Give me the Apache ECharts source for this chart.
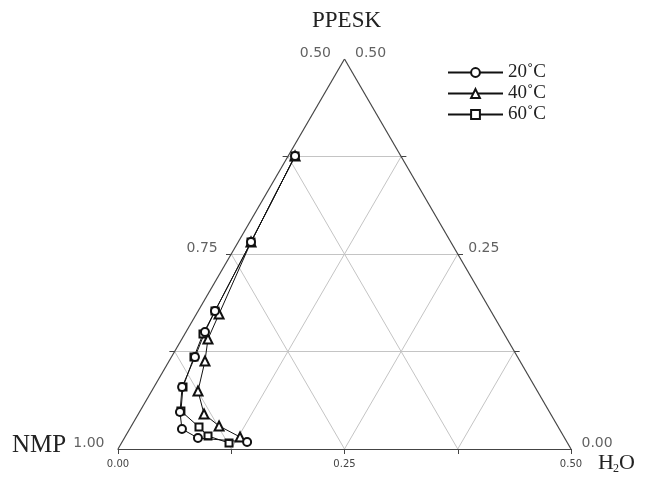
<!DOCTYPE html>
<html><head><meta charset="utf-8">
<script src="https://cdn.jsdelivr.net/npm/echarts@6/dist/echarts.min.js"></script>
<style>html,body{margin:0;padding:0;background:#fff}#c{width:650px;height:477px}</style>
</head><body><div id="c"></div>
<script>
// Ternary data: PPESK and H2O mass fractions (NMP = 1 - PPESK - H2O)
const seriesNames = ['20\u02DAC', '40\u02DAC', '60\u02DAC'];
const ppesk20 = [0.3756, 0.2654, 0.1769, 0.1500, 0.1179, 0.0795, 0.0474, 0.0256, 0.0141, 0.0090];
const h2o20   = [0.0076, 0.0141, 0.0186, 0.0210, 0.0260, 0.0310, 0.0447, 0.0578, 0.0812, 0.1380];
const ppesk40 = [0.3756, 0.2654, 0.1731, 0.1410, 0.1128, 0.0744, 0.0449, 0.0295, 0.0154];
const h2o40   = [0.0076, 0.0141, 0.0250, 0.0288, 0.0396, 0.0511, 0.0725, 0.0968, 0.1270];
const ppesk60 = [0.3756, 0.2654, 0.1769, 0.1474, 0.1179, 0.0795, 0.0487, 0.0282, 0.0167, 0.0077];
const h2o60   = [0.0076, 0.0141, 0.0186, 0.0201, 0.0249, 0.0320, 0.0451, 0.0753, 0.0910, 0.1187];

const axisMax = 0.5;                 // each component shown from 0 to 0.5
const gridSteps = [0.125, 0.25, 0.375];
const sideLabelP = [0, 0.25, 0.5];   // PPESK levels where side labels sit

// ternary (h2o, ppesk) -> cartesian (x, y) with y = ppesk
function toXY(h, p) { return [h + p / 2, p]; }
function seriesData(ps, hs) { return ps.map((p, i) => toXY(hs[i], p)); }

const edges = [
  [toXY(0, 0), toXY(axisMax, 0)],
  [toXY(0, 0), toXY(0, axisMax)],
  [toXY(axisMax, 0), toXY(0, axisMax)]
];
const gridLines = [];
gridSteps.forEach(s => {
  gridLines.push([toXY(0, s), toXY(axisMax - s, s)]);        // const PPESK
  gridLines.push([toXY(s, 0), toXY(s, axisMax - s)]);        // const H2O
  gridLines.push([toXY(s, 0), toXY(0, s)]);                  // const NMP
});
const tickLx = 0.0058;
const ticks = [];
gridSteps.forEach(p => {
  const l = toXY(0, p), r = toXY(axisMax - p, p);
  ticks.push([l, [l[0] - tickLx, l[1]]]);
  ticks.push([r, [r[0] + tickLx, r[1]]]);
});

const leftLabels = sideLabelP.map(p => { const xy = toXY(0, p); return [xy[0], xy[1], (1 - p).toFixed(2)]; });
const rightLabels = sideLabelP.map(p => { const xy = toXY(axisMax - p, p); return [xy[0], xy[1], p.toFixed(2)]; });

const chart = echarts.init(document.getElementById('c'), null, { renderer: 'canvas' });
const symbols = ['emptyCircle', 'emptyTriangle', 'emptyRect'];
const sizes = [8, 9, 7];
const dataSets = [seriesData(ppesk20, h2o20), seriesData(ppesk40, h2o40), seriesData(ppesk60, h2o60)];

const lab = (pos) => ({
  show: true, position: pos, distance: pos === 'left' ? 13 : 10, offset: [0, -6],
  formatter: p => p.value[2], fontFamily: 'DejaVu Sans', fontSize: 14, color: '#3a3a3a'
});

chart.setOption({
  animation: false,
  backgroundColor: '#fff',
  grid: { left: 118, right: 79, top: 59, bottom: 28 },
  xAxis: {
    type: 'value', min: 0, max: axisMax, interval: 0.125,
    axisLine: { show: true, lineStyle: { color: '#444', width: 1.2 } },
    axisTick: { show: true, length: 5, lineStyle: { color: '#444' } },
    splitLine: { show: false },
    axisLabel: {
      margin: 10, fontFamily: 'DejaVu Sans', fontSize: 10, color: '#444',
      formatter: v => Math.abs(v / 0.25 - Math.round(v / 0.25)) < 1e-6 ? v.toFixed(2) : ''
    }
  },
  yAxis: { type: 'value', min: 0, max: axisMax, show: false },
  legend: {
    orient: 'vertical', left: 447, top: 63, itemWidth: 55, itemHeight: 11, itemGap: 2, padding: 0,
    data: seriesNames,
    textStyle: { fontFamily: 'Liberation Serif', fontSize: 19, color: '#222' }
  },
  graphic: [
    { type: 'text', left: 312, top: 9, style: { text: 'PPESK', font: '23px "Liberation Serif"', fill: '#222' } },
    { type: 'text', left: 12, top: 433, style: { text: 'NMP', font: '25px "Liberation Serif"', fill: '#222' } },
    { type: 'text', left: 598, top: 452, style: { text: 'H', font: '22px "Liberation Serif"', fill: '#222' } },
    { type: 'text', left: 613, top: 463, style: { text: '2', font: '12px "Liberation Serif"', fill: '#222' } },
    { type: 'text', left: 619, top: 452, style: { text: 'O', font: '22px "Liberation Serif"', fill: '#222' } }
  ],
  series: [
    { type: 'lines', coordinateSystem: 'cartesian2d', silent: true, z: 1,
      lineStyle: { color: '#c4c4c4', width: 1, opacity: 1 },
      data: gridLines.map(c => ({ coords: c })) },
    { type: 'lines', coordinateSystem: 'cartesian2d', silent: true, z: 2,
      lineStyle: { color: '#444', width: 1.2, opacity: 1 },
      data: edges.concat(ticks).map(c => ({ coords: c })) },
    { type: 'scatter', silent: true, symbolSize: 1, itemStyle: { color: 'rgba(0,0,0,0)' }, label: lab('left'), data: leftLabels, z: 3 },
    { type: 'scatter', silent: true, symbolSize: 1, itemStyle: { color: 'rgba(0,0,0,0)' }, label: lab('right'), data: rightLabels, z: 3 }
  ].concat(seriesNames.map((n, i) => ({
    name: n, type: 'line', data: dataSets[i], z: 8 - i,
    symbol: symbols[i], symbolSize: sizes[i], showAllSymbol: true,
    lineStyle: { color: '#111', width: 1 },
    itemStyle: { color: '#111', borderColor: '#111', borderWidth: 1 }
  })))
});
</script></body></html>
